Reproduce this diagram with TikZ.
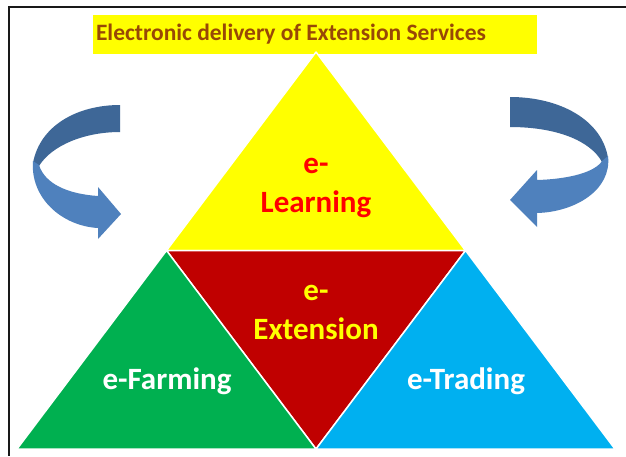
\documentclass[tikz,border=0pt]{standalone}
\usepackage{fontspec}
\setmainfont{Carlito}
\usepackage{xcolor}
\usepackage{tikz}
\usetikzlibrary{positioning,calc}

\definecolor{tri yellow}{HTML}{FFFF00}
\definecolor{tri red}{HTML}{C00000}
\definecolor{tri green}{HTML}{00B050}
\definecolor{tri cyan}{HTML}{00B0F0}
\definecolor{title brown}{HTML}{984806}
\definecolor{arrow dark}{HTML}{3E6797}
\definecolor{arrow light}{HTML}{4F81BD}

\begin{document}
\begin{tikzpicture}[x=1pt,y=-1pt,
    part/.style={draw=white,line width=1.5pt,line join=round},
    label/.style={font=\fontsize{31}{33}\selectfont\bfseries,align=center}]
    \useasboundingbox (0,0) rectangle (626,456);
    \fill[white] (0,0) rectangle (626,456);

    % frame
    \draw[line width=2pt,black!90] (626,7) -- (9,7) -- (9,456);

    % title
    \fill[tri yellow] (93,15) rectangle (537,54);
    \node[font=\fontsize{23.5}{25}\selectfont\bfseries,text=title brown] (title) at (291,34) {Electronic delivery of Extension Services};

    % the four triangles
    \coordinate (apex) at (316,52);
    \coordinate (bl) at (17,449);
    \coordinate (br) at (615,449);
    \coordinate (ml) at ($(apex)!0.5!(bl)$);
    \coordinate (mr) at ($(apex)!0.5!(br)$);
    \coordinate (mb) at ($(bl)!0.5!(br)$);
    \filldraw[part,fill=tri yellow] (apex) -- (ml) -- (mr) -- cycle;
    \filldraw[part,fill=tri red] (ml) -- (mr) -- (mb) -- cycle;
    \filldraw[part,fill=tri green] (ml) -- (mb) -- (bl) -- cycle;
    \filldraw[part,fill=tri cyan] (mr) -- (br) -- (mb) -- cycle;

    \node[label,text=red] (learnE) at (316,166) {e-};
    \node[label,text=red] (learn) at (316,204) {Learning};
    \node[label,text=tri yellow] (extE) at (316,293) {e-};
    \node[label,text=tri yellow] (ext) at (316,329) {Extension};
    \node[label,text=white] (farm) at (167,381) {e-Farming};
    \node[label,text=white] (trade) at (466,381) {e-Trading};

    % left curved arrow
    \fill[arrow dark] (120,105) .. controls (78,105) and (40,125) .. (33,163)
        -- (39,166) .. controls (52,145) and (85,132) .. (120,132) -- cycle;
    \fill[arrow light] (33,161) .. controls (30,198) and (62,226) .. (98,228)
        -- (98,239) -- (121,214) -- (98,187) -- (98,196)
        .. controls (68,194) and (45,184) .. (39,165) -- cycle;

    % right curved arrow
    \fill[arrow dark] (510,97) .. controls (560,97) and (602,120) .. (608,158)
        -- (602,162) .. controls (590,140) and (555,127) .. (510,127) -- cycle;
    \fill[arrow light] (608,156) .. controls (612,190) and (575,212) .. (537,213)
        -- (537,227) -- (510,200) -- (537,170) -- (537,180)
        .. controls (570,179) and (595,172) .. (602,161) -- cycle;
\end{tikzpicture}
\end{document}
